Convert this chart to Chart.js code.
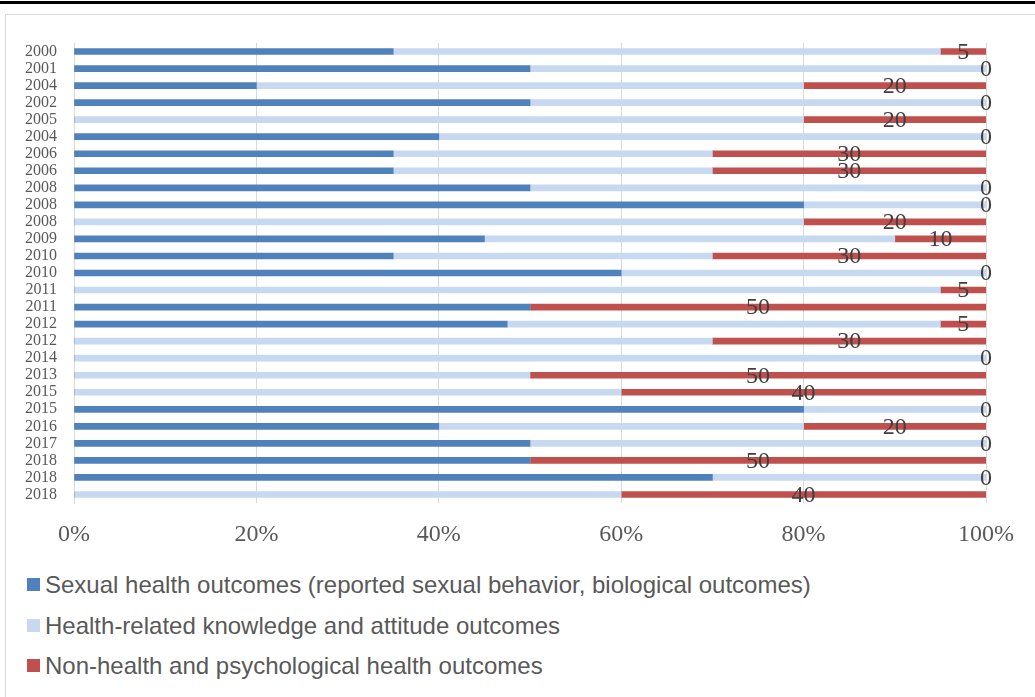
<!DOCTYPE html>
<html>
<head>
<meta charset="utf-8">
<script src="https://cdn.jsdelivr.net/npm/chart.js@4/dist/chart.umd.min.js"></script>
<style>
  html, body { margin: 0; padding: 0; background: #fff; overflow: hidden; }
  .wrap { position: relative; width: 1035px; height: 697px; }
  .topline { position: absolute; left: 0; top: 1px; width: 1035px; height: 3px; background: #000; }
  .box { position: absolute; left: 5px; top: 14px; width: 1100px; height: 800px; border: 1px solid #d9d9d9; }
  #canvas { position: absolute; left: 0; top: 0; }
  .leg { position: absolute; left: 27px; font-family: "Liberation Sans", Arial, sans-serif; font-size: 24px; color: #595959; white-space: nowrap; }
  .leg span.sq { display: inline-block; width: 13px; height: 13px; margin-right: 5px; vertical-align: middle; position: relative; top: -2px; }
</style>
</head>
<body>
<div class="wrap">
  <div class="topline"></div>
  <div class="box"></div>
  <canvas id="canvas" width="1035" height="560"></canvas>
  <div id="legend"></div>
</div>
<script>
// данные
const years = ['2000','2001','2004','2002','2005','2004','2006','2006','2008','2008','2008','2009','2010','2010',
               '2011','2011','2012','2012','2014','2013','2015','2015','2016','2017','2018','2018','2018'];
const sexualHealth = [35,50,20,50,0,40,35,35,50,80,0,45,35,60,0,50,47.5,0,0,0,0,80,40,50,50,70,0];
const knowledge    = [60,50,60,50,80,60,35,35,50,20,80,45,35,40,95,0,47.5,70,100,50,60,20,40,50,0,30,60];
const nonHealth    = [5,0,20,0,20,0,30,30,0,0,20,10,30,0,5,50,5,30,0,50,40,0,20,0,50,0,40];
const seriesNames = [
  'Sexual health outcomes (reported sexual behavior, biological outcomes)',
  'Health-related knowledge and attitude outcomes',
  'Non-health and psychological health outcomes'
];
const seriesColors = ['#4f81bd', '#c6d9f0', '#c0504d'];
const xTicks = [0, 20, 40, 60, 80, 100];

let c = document.getElementById('canvas');
let ctx = c.getContext('2d');

// подписи значений на красной серии
const valueLabels = {
  id: 'valueLabels',
  afterDatasetsDraw(chart) {
    let meta = chart.getDatasetMeta(2);
    let g = chart.ctx;
    g.save();
    g.font = '24px "Liberation Serif", serif';
    g.fillStyle = '#404040';
    g.textAlign = 'center';
    g.textBaseline = 'middle';
    meta.data.forEach((bar, i) => {
      let x = (bar.x + bar.base) / 2;
      g.fillText(String(nonHealth[i]), x, bar.y + 1);
    });
    g.restore();
  }
};

let sets = [sexualHealth, knowledge, nonHealth].map((d, i) => ({
  label: seriesNames[i],
  data: d,
  backgroundColor: seriesColors[i],
  borderWidth: 0,
  barThickness: 6
}));

let myChart = new Chart(ctx, {
  type: 'bar',
  data: { labels: years, datasets: sets },
  options: {
    indexAxis: 'y',
    responsive: false,
    animation: false,
    layout: { padding: { top: 43, right: 49, left: 0, bottom: 0 } },
    plugins: { legend: { display: false }, tooltip: { enabled: false } },
    scales: {
      x: {
        stacked: true,
        min: 0,
        max: 100,
        afterBuildTicks: (axis) => { axis.ticks = xTicks.map(v => ({ value: v })); },
        afterFit: (axis) => { axis.height = 57; },
        grid: { color: '#d9d9d9', drawTicks: false },
        border: { display: false },
        ticks: {
          padding: 17,
          color: '#595959',
          font: { family: '"Liberation Serif", serif', size: 24 },
          callback: v => v + '%'
        }
      },
      y: {
        stacked: true,
        afterFit: (axis) => { axis.width = 74; },
        grid: { display: false, drawTicks: false },
        border: { display: true, color: '#d9d9d9' },
        ticks: {
          padding: 17,
          autoSkip: false,
          color: '#595959',
          font: { family: '"Liberation Serif", serif', size: 16 }
        }
      }
    }
  },
  plugins: [valueLabels]
});

// легенда снизу
function insertLegend() {
  let tops = [585, 626, 666];
  let box = document.getElementById('legend');
  seriesNames.forEach((name, i) => {
    let div = document.createElement('div');
    div.className = 'leg';
    div.style.top = (tops[i] - 14) + 'px';
    div.innerHTML = '<span class="sq" style="background:' + seriesColors[i] + '"></span>' + name;
    box.append(div);
  });
}
insertLegend();
</script>
</body>
</html>
